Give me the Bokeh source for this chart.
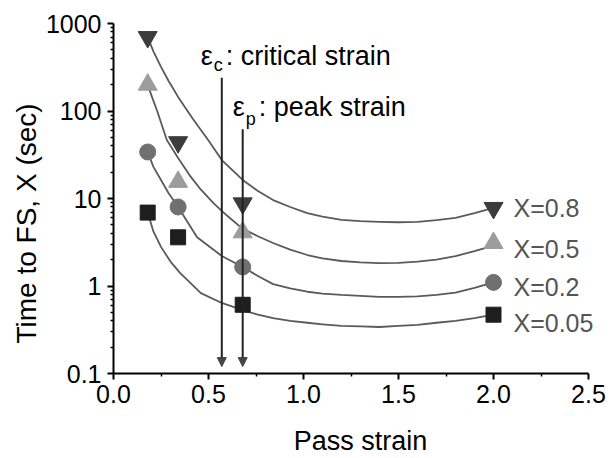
from bokeh.plotting import figure
from bokeh.models import Label, Arrow, NormalHead, FixedTicker, Title
from bokeh.embed import file_html
from bokeh.resources import INLINE

# ---------------- data ----------------
strain_pts = [0.18, 0.34, 0.68, 2.0]
t_x08 = [700, 44, 8.8, 7.8]
t_x05 = [200, 15.5, 4.1, 3.1]
t_x02 = [34, 8.0, 1.65, 1.1]
t_x005 = [6.9, 3.6, 0.61, 0.47]

fit_x08_x = [0.18, 0.21, 0.25, 0.29, 0.34, 0.42, 0.5, 0.57, 0.68, 0.76, 0.84, 0.93, 1.02, 1.1, 1.2, 1.3, 1.4, 1.5, 1.6, 1.7, 1.8, 1.9, 2.0]
fit_x08_y = [700, 480, 320, 220, 145, 80, 46, 27.5, 16.3, 12.2, 9.6, 8.0, 6.8, 6.2, 5.7, 5.5, 5.4, 5.35, 5.4, 5.65, 6.0, 6.8, 7.8]
fit_x05_x = [0.18, 0.2, 0.23, 0.28, 0.34, 0.4, 0.46, 0.53, 0.6, 0.68, 0.76, 0.84, 0.93, 1.02, 1.1, 1.2, 1.3, 1.4, 1.5, 1.6, 1.7, 1.8, 1.9, 2.0]
fit_x05_y = [200, 150, 100, 47, 29, 18.5, 12.6, 8.7, 6.3, 4.5, 3.7, 3.1, 2.6, 2.26, 2.07, 1.93, 1.86, 1.83, 1.84, 1.9, 2.0, 2.2, 2.5, 2.9]
fit_x02_x = [0.18, 0.21, 0.25, 0.29, 0.34, 0.44, 0.57, 0.68, 0.76, 0.84, 0.93, 1.02, 1.1, 1.2, 1.3, 1.4, 1.5, 1.6, 1.7, 1.8, 1.9, 2.0]
fit_x02_y = [34, 23, 16.3, 11.5, 8.0, 3.6, 2.2, 1.65, 1.3, 1.05, 0.94, 0.86, 0.82, 0.79, 0.77, 0.75, 0.75, 0.76, 0.79, 0.84, 0.95, 1.1]
fit_x005_x = [0.18, 0.21, 0.25, 0.3, 0.35, 0.46, 0.57, 0.68, 0.76, 0.84, 0.93, 1.02, 1.1, 1.2, 1.3, 1.4, 1.5, 1.6, 1.7, 1.8, 1.9, 2.0]
fit_x005_y = [6.9, 4.2, 2.8, 1.9, 1.41, 0.83, 0.64, 0.53, 0.47, 0.43, 0.40, 0.38, 0.365, 0.35, 0.345, 0.34, 0.35, 0.36, 0.38, 0.40, 0.43, 0.47]

series_names = ["X=0.8", "X=0.5", "X=0.2", "X=0.05"]

eps_c = 0.57
eps_p = 0.68
eps_c_top = 240
eps_p_top = 62
arrow_tip = 0.12

x_ticks = [0, 0.5, 1.0, 1.5, 2.0, 2.5]
x_tick_labels = ["0.0", "0.5", "1.0", "1.5", "2.0", "2.5"]
x_minor = [0.25, 0.75, 1.25, 1.75, 2.25]
y_ticks = [0.1, 1, 10, 100, 1000]
y_tick_labels = ["0.1", "1", "10", "100", "1000"]
y_minor = [m * 10 ** e for e in range(-1, 3) for m in range(2, 10)]

FONT = "Liberation Sans"

p = figure(width=615, height=458, x_range=(0, 2.6), y_range=(0.1, 1000),
           y_axis_type="log", output_backend="svg", toolbar_location=None,
           min_border_left=113, min_border_right=8, min_border_top=23,
           min_border_bottom=85)
p.outline_line_color = None
p.grid.visible = False
p.background_fill_color = "white"
p.border_fill_color = "white"

for ax in (p.xaxis, p.yaxis):
    ax.axis_line_width = 2
    ax.axis_line_color = "black"
    ax.major_tick_line_width = 2
    ax.minor_tick_line_width = 1.5
    ax.major_tick_out = 6
    ax.major_tick_in = 0
    ax.minor_tick_out = 3
    ax.minor_tick_in = 0
    ax.major_label_text_font = FONT
    ax.major_label_text_font_size = "25px"
    ax.major_label_text_color = "black"
    ax.axis_label_text_font = FONT
    ax.axis_label_text_font_style = "normal"
    ax.axis_label_text_color = "black"

p.xaxis.bounds = (0, 2.5)
p.xaxis.ticker = FixedTicker(ticks=x_ticks, minor_ticks=x_minor)
p.xaxis.major_label_overrides = {t: l for t, l in zip(x_ticks, x_tick_labels)}
p.yaxis.ticker = FixedTicker(ticks=y_ticks, minor_ticks=y_minor)
p.yaxis.major_label_overrides = {t: l for t, l in zip(y_ticks, y_tick_labels)}
p.xaxis.major_label_standoff = 5
p.yaxis.major_label_standoff = 6

p.xaxis.axis_label = "Pass strain"
p.xaxis.axis_label_text_font_size = "27px"
p.xaxis.axis_label_standoff = 20

# y-axis title (as a side title so it can sit a little below the frame centre)
p.add_layout(Title(text="Time to FS, X (sec)", align="left", offset=30,
                   text_font=FONT, text_font_size="28px", text_font_style="normal",
                   text_color="black", standoff=2), "left")

curve_color = "#5a5a5a"
fits = [(fit_x08_x, fit_x08_y), (fit_x05_x, fit_x05_y), (fit_x02_x, fit_x02_y), (fit_x005_x, fit_x005_y)]
for fx, fy in fits:
    p.line(fx, fy, line_color=curve_color, line_width=1.8, line_join="round")

# vertical strain markers with arrows
for xe, top in [(eps_c, eps_c_top), (eps_p, eps_p_top)]:
    p.add_layout(Arrow(x_start=xe, y_start=top, x_end=xe, y_end=arrow_tip,
                       line_color="#222222", line_width=2,
                       end=NormalHead(size=9, fill_color="#444444", line_color="#444444",
                                      line_width=1)))

markers = [("inverted_triangle", t_x08, "#3c3c3c", 19),
           ("triangle", t_x05, "#9c9c9c", 19),
           ("circle", t_x02, "#707070", 16),
           ("square", t_x005, "#1e1e1e", 15)]
for mk, vals, col, sz in markers:
    p.scatter(strain_pts, vals, marker=mk, size=sz, fill_color=col, line_color=col)

# series labels
label_offsets = [0, -6, -5, -8]
last_vals = [t_x08[-1], t_x05[-1], t_x02[-1], t_x005[-1]]
for name, v, off in zip(series_names, last_vals, label_offsets):
    p.add_layout(Label(x=strain_pts[-1], y=v, x_offset=20, y_offset=off, text=name,
                       text_align="left", text_baseline="middle", text_font=FONT,
                       text_font_size="25px", text_color="#555555"))

# strain annotations
def strain_label(xe, top, eps_dx, sub, rest, sub_dy, rest_dx):
    p.add_layout(Label(x=xe, y=top, x_offset=eps_dx, y_offset=22, text="ε",
                       text_align="left", text_baseline="middle", text_font=FONT,
                       text_font_size="27px", text_color="black"))
    p.add_layout(Label(x=xe, y=top, x_offset=eps_dx + 13, y_offset=sub_dy, text=sub,
                       text_align="left", text_baseline="middle", text_font=FONT,
                       text_font_size="18px", text_color="black"))
    p.add_layout(Label(x=xe, y=top, x_offset=rest_dx, y_offset=22, text=rest,
                       text_align="left", text_baseline="middle", text_font=FONT,
                       text_font_size="27px", text_color="black"))

strain_label(eps_c, eps_c_top, -21, "c", ": critical strain", 13, 4)
strain_label(eps_p, eps_p_top, -10, "p", ": peak strain", 10, 16)

open("out.html", "w").write(file_html(p, INLINE))
